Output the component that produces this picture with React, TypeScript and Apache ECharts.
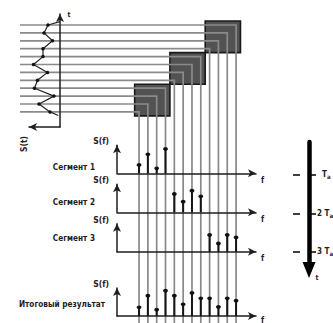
import React, { useEffect, useRef } from 'react';
import * as echarts from 'echarts';

// ---- data ----
const frequencyBins = [0, 1, 2, 3, 4, 5, 6, 7, 8, 9, 10, 11];
const sampleTimes = [11, 18.9, 26.8, 34.7, 42.6, 50.5, 58.4, 66.3, 74.2, 82.1, 90, 97.9];
const signalSamples = [12, 16, 7.5, 17, 17, 26.5, 12.5, 22.5, 25.5, 6, 21, 10];
const waveStart = [0, 7.7];
const waveEnd = [1.7, 101.5];
const segment1 = [8.3, 19, 5, 24.3];
const segment2 = [18.3, 10.6, 21.6, 16];
const segment3 = [16.7, 8.3, 16.7, 14.3];
const resultSpectrum = [8.7, 20.3, 6.3, 25.3, 20.3, 11.7, 23, 17.7, 17.7, 9, 17.7, 15.3];
const channelToBin = [11, 10, 9, 8, 7, 6, 5, 4, 3, 2, 1, 0];
const panelLabels = ['Сегмент 1', 'Сегмент 2', 'Сегмент 3', 'Итоговый результат'];
const timeTicks = [1, 2, 3];
const timeTickPrefix = ['', '2 ', '3 '];

// ---- layout ----
const W = 333;
const H = 323;
const FONT = '"Liberation Sans Narrow", "DejaVu Sans Condensed", "Liberation Sans", sans-serif';
const INK = '#1e1e1e';
const panelAxisY = [173.3, 212.3, 251.7, 316];
const panelLabelPos = [[95, 166.5], [95, 202], [95, 238], [105, 303.5]];

const hidden = { axisTick: { show: false }, axisLabel: { show: false }, splitLine: { show: false } };

function stemRender(params: any, api: any) {
  const x = api.value(0);
  const v = api.value(1);
  const base = api.coord([x, 0]);
  const top = api.coord([x, v]);
  return {
    type: 'group',
    children: [
      { type: 'line', shape: { x1: base[0], y1: base[1], x2: top[0], y2: top[1] }, style: { stroke: '#151515', lineWidth: 2 } },
      { type: 'ellipse', shape: { cx: top[0], cy: top[1], rx: 2.4, ry: 1.9 }, style: { fill: '#111' } },
    ],
  };
}

export default function App() {
  const ref = useRef<HTMLDivElement>(null);
  useEffect(() => {
    const chart = echarts.init(ref.current!, null, { renderer: 'svg' });
    const panels = [
      { bins: frequencyBins.slice(0, 4), vals: segment1 },
      { bins: frequencyBins.slice(4, 8), vals: segment2 },
      { bins: frequencyBins.slice(8, 12), vals: segment3 },
      { bins: frequencyBins, vals: resultSpectrum },
    ];
    const grids: any[] = [
      { left: 29, top: 14, width: 31, height: 113, outerBoundsMode: 'none' },
      ...panelAxisY.map((y) => ({ left: 117, top: y - 28, width: 139, height: 28, outerBoundsMode: 'none' })),
      { left: 300, top: 142, width: 9, height: 128, outerBoundsMode: 'none' },
    ];
    const thinLine = (sym: string[]) => ({
      show: true, onZero: false, symbol: sym, symbolSize: [6, 8],
      lineStyle: { color: INK, width: 1.5 },
    });
    const xAxes: any[] = [
      { gridIndex: 0, type: 'value', min: 0, max: 31, inverse: true, ...hidden, axisLine: thinLine(['arrow', 'none']), z: 5 },
      ...panelAxisY.map((_, k) => ({
        gridIndex: k + 1, type: 'value', min: -2.5, max: 13.26, ...hidden,
        axisLine: thinLine(['none', 'arrow']), z: 5,
        name: 'f', nameLocation: 'end', nameGap: 5,
        nameTextStyle: k < 3
          ? { color: INK, fontFamily: FONT, fontWeight: 'bold', fontSize: 8, verticalAlign: 'top', padding: [3, 0, 0, 0] }
          : { color: INK, fontFamily: FONT, fontWeight: 'bold', fontSize: 8, verticalAlign: 'top', padding: [0, 0, 0, 0] },
      })),
      { gridIndex: 5, type: 'value', show: false },
    ];
    const timeMin = 0.143;
    const timeMax = 3.47;
    const yAxes: any[] = [
      { gridIndex: 0, type: 'value', position: 'right', min: 0, max: 113, inverse: true, ...hidden, axisLine: thinLine(['none', 'arrow']), z: 5 },
      ...panelAxisY.map((_, k) => ({
        gridIndex: k + 1, type: 'value', position: 'left', min: 0, max: 28, ...hidden,
        axisLine: thinLine(['none', 'arrow']), z: 5,
        name: 'S(f)', nameLocation: 'end', nameGap: 4,
        nameTextStyle: { color: INK, fontFamily: FONT, fontWeight: 'bold', fontSize: 8.5, align: 'right', verticalAlign: 'middle', padding: [0, 8, 0, 0] },
      })),
      {
        gridIndex: 5, type: 'value', position: 'right', inverse: true, min: timeMin, max: timeMax,
        splitLine: { show: false },
        axisLine: { show: true, onZero: false, symbol: ['triangle', 'none'], symbolSize: [13, 16], lineStyle: { color: '#000', width: 4.5 } },
        axisTick: { show: true, inside: false, length: 7, customValues: timeTicks, lineStyle: { color: '#000', width: 1.5 } },
        axisLabel: {
          show: true, margin: 8, customValues: timeTicks,
          formatter: (v: number) => {
            const i = timeTicks.indexOf(Math.round(v));
            return (i === 0 ? '{g| }' : '{n|' + timeTickPrefix[i] + '}') + '{t|T}{s|a}';
          },
          rich: {
            g: { width: 5, fontSize: 8 },
            n: { fontFamily: FONT, fontSize: 8, fontWeight: 'bold', color: INK },
            t: { fontFamily: FONT, fontSize: 8, fontWeight: 'bold', color: INK },
            s: { fontFamily: FONT, fontSize: 6, fontWeight: 'bold', color: INK, padding: [4, 0, 0, 0] },
          },
        },
        z: 5,
      },
      {
        gridIndex: 5, type: 'value', position: 'right', inverse: true, min: timeMin, max: timeMax,
        splitLine: { show: false }, axisLabel: { show: false },
        axisLine: { show: false },
        axisTick: { show: true, inside: true, length: 7, customValues: timeTicks, lineStyle: { color: '#000', width: 1.5 } },
        z: 5,
      },
    ];
    const waveData: any[] = [
      { value: waveStart, symbol: 'none' },
      ...signalSamples.map((a, i) => [a, sampleTimes[i]]),
      { value: waveEnd, symbol: 'none' },
    ];
    const series: any[] = [
      {
        type: 'line', xAxisIndex: 0, yAxisIndex: 0, data: waveData, symbol: 'circle', symbolSize: 3.5,
        lineStyle: { color: '#222', width: 1.2 }, itemStyle: { color: '#111' }, z: 6, clip: false, silent: true,
      },
      ...panels.map((p, k) => ({
        type: 'custom', xAxisIndex: k + 1, yAxisIndex: k + 1,
        data: p.bins.map((b, i) => [b, p.vals[i]]), renderItem: stemRender, z: 6, clip: false, silent: true,
      })),
    ];
    chart.setOption({
      animation: false,
      backgroundColor: '#fff',
      grid: grids,
      xAxis: xAxes,
      yAxis: yAxes,
      series,
    });

    // routing lines and analysis blocks derived from the axes above
    const chanY = sampleTimes.map((t) => (chart.convertToPixel({ gridIndex: 0 } as any, [0, t]) as number[])[1]);
    const binX = frequencyBins.map((b) => (chart.convertToPixel({ gridIndex: 1 } as any, [b, 0]) as number[])[0]);
    const halfX = (binX[1] - binX[0]) / 2;
    const halfY = (chanY[1] - chanY[0]) / 2;
    const elements: any[] = [];
    for (let g = 0; g < 3; g++) {
      const b0 = 4 * g;
      const b1 = 4 * g + 3;
      const c0 = channelToBin.indexOf(b1);
      const c1 = channelToBin.indexOf(b0);
      const x0 = binX[b0] - halfX;
      const x1 = binX[b1] + halfX;
      const y0 = chanY[c0] - halfY;
      const y1 = chanY[c1] + halfY;
      elements.push({
        type: 'rect', z: 1, shape: { x: x0, y: y0, width: x1 - x0, height: y1 - y0 },
        style: { fill: '#525252', stroke: '#1a1a1a', lineWidth: 1.6 },
      });
    }
    channelToBin.forEach((b, i) => {
      elements.push({
        type: 'polyline', z: 2,
        shape: { points: [[20, chanY[i]], [binX[b], chanY[i]], [binX[b], H]] },
        style: { stroke: '#8a8a8a', lineWidth: 1.7, fill: null },
      });
    });
    const txt = (text: string, x: number, y: number, size: number, align = 'right', rotation = 0, sx = 1) => ({
      type: 'text', z: 7, x, y, rotation, scaleX: sx,
      style: { text, fill: INK, font: `bold ${size}px ${FONT}`, align, verticalAlign: 'middle' },
    });
    panelLabels.forEach((l, k) => elements.push(txt(l, panelLabelPos[k][0], panelLabelPos[k][1], 9.5, 'right', 0, 0.86)));
    elements.push(txt('t', 69, 15, 7, 'center'));
    elements.push(txt('S(t)', 24, 144, 8.5, 'center', Math.PI / 2));
    elements.push(txt('t', 317, 278, 7, 'center'));
    chart.setOption({ graphic: { elements } });
    return () => chart.dispose();
  }, []);
  return <div ref={ref} style={{ position: 'absolute', left: 0, top: 0, width: W, height: H, background: '#fff' }} />;
}
